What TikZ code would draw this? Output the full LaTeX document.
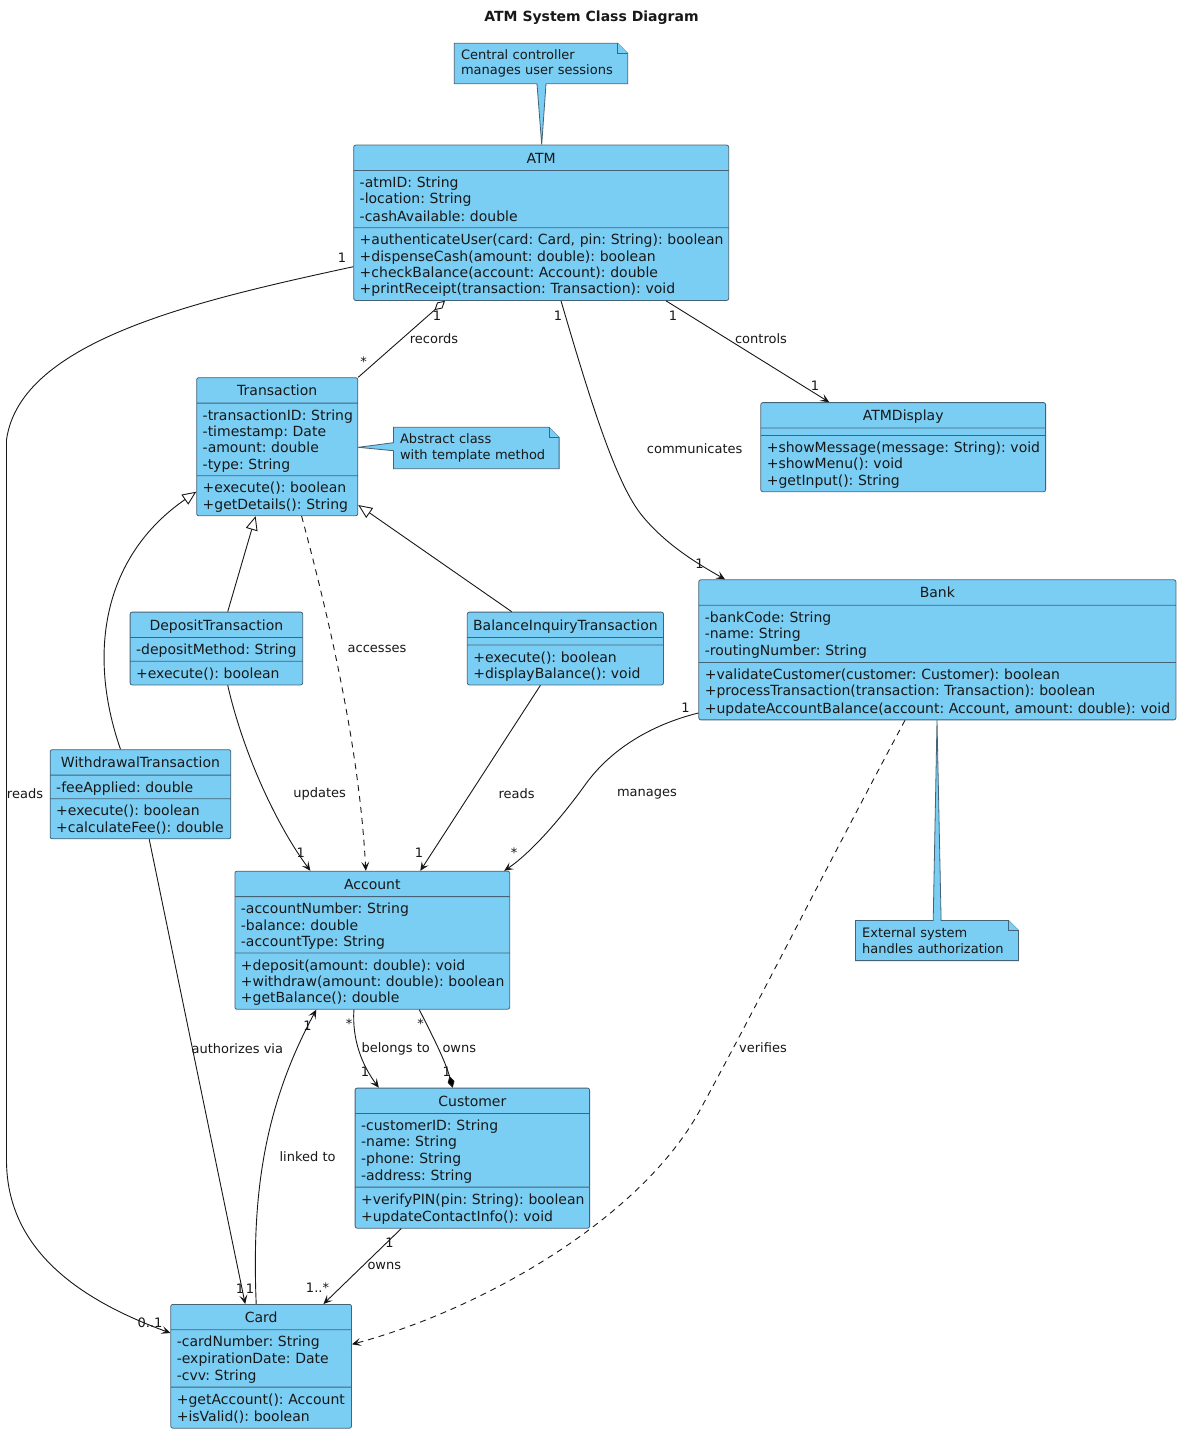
\documentclass[tikz,border=0pt]{standalone}
\usepackage{fontspec}
\setmainfont{DejaVu Sans}
\usetikzlibrary{shapes.multipart,arrows.meta}
\pgfdeclarelayer{background}
\pgfsetlayers{background,main}

\definecolor{umlfill}{RGB}{122,206,244}
\definecolor{umlline}{RGB}{70,98,118}
\definecolor{ink}{RGB}{24,24,24}

\newcommand{\classfont}{\fontsize{14}{16.3}\selectfont\frenchspacing}
\newcommand{\labelfont}{\fontsize{13}{15.7}\selectfont\frenchspacing}
\newcommand{\umlstrut}{\rule[-2.9pt]{0pt}{16.3pt}}
\newcommand{\hdstrut}{\rule[-3.6pt]{0pt}{18pt}}
\newcommand{\members}[1]{\rightskip=0pt plus 1fil minus 60pt\relax
  \hyphenpenalty=10000 \exhyphenpenalty=10000 \umlstrut#1\umlstrut\par}
\newcommand{\classname}[1]{\leftskip=0pt plus 1fil minus 30pt\relax
  \rightskip=0pt plus 1fil minus 30pt\relax\parfillskip=0pt\relax
  \hyphenpenalty=10000 \hdstrut#1\par}

\tikzset{
  umlclass/.style={rectangle split, rectangle split parts=3, draw=umlline,
    fill=umlfill, line width=0.8pt, rounded corners=2pt, inner xsep=6pt,
    inner ysep=3.3pt, font=\classfont, text=ink, align=left, anchor=north west},
  notebox/.style={anchor=north west, inner xsep=6.5pt, inner ysep=0pt,
    font=\labelfont, text=ink, align=left},
  notebody/.style={draw=umlline, fill=umlfill, line width=0.8pt},
  assoc/.style={draw=ink, line width=0.9pt},
  nav/.style={assoc, -{Stealth[length=9pt,width=8pt,inset=4pt]}},
  dep/.style={nav, dash pattern=on 6pt off 5pt},
  inherit/.style={assoc, -{Triangle[open,fill=white,length=14pt,width=12pt]}},
  aggr/.style={assoc, -{Diamond[open,fill=white,length=14pt,width=8pt]}},
  compo/.style={assoc, -{Diamond[length=12pt,width=7pt]}},
  lbl/.style={font=\labelfont, text=ink, inner sep=0pt},
}

\begin{document}
\begin{tikzpicture}[x=1pt,y=-1pt]
  \useasboundingbox (0,0) rectangle (1189,1442);
  \node[font=\bfseries\fontsize{14}{16}\selectfont, text=ink] (title) at (591.5,18) {ATM System Class Diagram};

  % Classes
  \node[umlclass, text width=363pt] (atm) at (353.3,144.7) {\classname{ATM}
    \nodepart{two}\members{-atmID: String\\-location: String\\-cashAvailable: double}
    \nodepart{three}\members{+authenticateUser(card: Card, pin: String): boolean\\+dispenseCash(amount: double): boolean\\+checkBalance(account: Account): double\\+printReceipt(transaction: Transaction): void}};
  \node[umlclass, text width=272.8pt] (display) at (760.4,402.2) {\classname{ATMDisplay}
    \nodepart{two}
    \nodepart{three}\members{+showMessage(message: String): void\\+showMenu(): void\\+getInput(): String}};
  \node[umlclass, text width=149.1pt] (trans) at (196.3,377.3) {\classname{Transaction}
    \nodepart{two}\members{-transactionID: String\\-timestamp: Date\\-amount: double\\-type: String}
    \nodepart{three}\members{+execute(): boolean\\+getDetails(): String}};
  \node[umlclass, text width=160.6pt] (deposit) at (129.7,611.7) {\classname{DepositTransaction}
    \nodepart{two}\members{-depositMethod: String}
    \nodepart{three}\members{+execute(): boolean}};
  \node[umlclass, text width=184.2pt] (balinq) at (466.9,611.7) {\classname{BalanceInquiryTransaction}
    \nodepart{two}
    \nodepart{three}\members{+execute(): boolean\\+displayBalance(): void}};
  \node[umlclass, text width=168.6pt] (withdraw) at (49.8,749.3) {\classname{WithdrawalTransaction}
    \nodepart{two}\members{-feeApplied: double}
    \nodepart{three}\members{+execute(): boolean\\+calculateFee(): double}};
  \node[umlclass, text width=465.1pt] (bank) at (698.4,579.4) {\classname{Bank}
    \nodepart{two}\members{-bankCode: String\\-name: String\\-routingNumber: String}
    \nodepart{three}\members{+validateCustomer(customer: Customer): boolean\\+processTransaction(transaction: Transaction): boolean\\+updateAccountBalance(account: Account, amount: double): void}};
  \node[umlclass, text width=262.8pt] (account) at (234.5,870.8) {\classname{Account}
    \nodepart{two}\members{-accountNumber: String\\-balance: double\\-accountType: String}
    \nodepart{three}\members{+deposit(amount: double): void\\+withdraw(amount: double): boolean\\+getBalance(): double}};
  \node[umlclass, text width=222.5pt] (customer) at (354.7,1087.7) {\classname{Customer}
    \nodepart{two}\members{-customerID: String\\-name: String\\-phone: String\\-address: String}
    \nodepart{three}\members{+verifyPIN(pin: String): boolean\\+updateContactInfo(): void}};
  \node[umlclass, text width=168.7pt] (card) at (170.4,1304) {\classname{Card}
    \nodepart{two}\members{-cardNumber: String\\-expirationDate: Date\\-cvv: String}
    \nodepart{three}\members{+getAccount(): Account\\+isValid(): boolean}};

  % Notes
  \node[notebox, text width=160pt, minimum height=40pt] (notectrl) at (454.3,43.3) {Central controller\\manages user sessions};
  \node[notebox, text width=152.3pt, minimum height=41pt] (noteabs) at (393.4,427.3) {Abstract class\\with template method};
  \node[notebox, text width=149.7pt, minimum height=39.8pt] (noteext) at (855.4,920.4) {External system\\handles authorization};
  \begin{pgfonlayer}{background}
    \fill[white] (0,0) rectangle (1189,1442);
    \draw[notebody] (notectrl.north west) -- ([xshift=-10pt]notectrl.north east) -- ([yshift=-10pt]notectrl.north east)
      -- (notectrl.south east) -- ([xshift=91.7pt]notectrl.south west) -- ([xshift=188.4pt]atm.north west)
      -- ([xshift=82.7pt]notectrl.south west) -- (notectrl.south west) -- cycle;
    \draw[notebody] ([xshift=-10pt]notectrl.north east) |- ([yshift=-10pt]notectrl.north east);
    \draw[notebody] (noteabs.north west) -- ([xshift=-10pt]noteabs.north east) -- ([yshift=-10pt]noteabs.north east)
      -- (noteabs.south east) -- (noteabs.south west) -- ([yshift=-23.4pt]noteabs.north west)
      -- ([yshift=-70pt]trans.north east) -- ([yshift=-15.4pt]noteabs.north west) -- cycle;
    \draw[notebody] ([xshift=-10pt]noteabs.north east) |- ([yshift=-10pt]noteabs.north east);
    \draw[notebody] (noteext.north west) -- ([xshift=77.8pt]noteext.north west) -- ([xshift=238.6pt]bank.south west)
      -- ([xshift=85.7pt]noteext.north west) -- ([xshift=-10pt]noteext.north east) -- ([yshift=-10pt]noteext.north east)
      -- (noteext.south east) -- (noteext.south west) -- cycle;
    \draw[notebody] ([xshift=-10pt]noteext.north east) |- ([yshift=-10pt]noteext.north east);
  \end{pgfonlayer}

  % Inheritance
  \draw[inherit] ([xshift=70.7pt]withdraw.north west) .. controls (86,650) and (105,555) .. ([yshift=-114.4pt]trans.north west);
  \draw[inherit] ([xshift=98pt]deposit.north west) -- ([xshift=59.3pt]trans.south west);
  \draw[inherit] ([xshift=44.8pt]balinq.north west) -- ([yshift=-127.7pt]trans.north east);

  % Associations
  \draw[aggr] (trans.north east) -- ([xshift=91.7pt]atm.south west);
  \draw[nav] ([yshift=-122pt]atm.north west) .. controls (200,300) and (20,340) .. (6.5,440)
    -- (6.5,1160) .. controls (6.5,1250) and (80,1300) .. ([yshift=-29pt]card.north west);
  \draw[nav] ([xshift=207.7pt]atm.south west) .. controls (590,400) and (615,480) .. (640,513)
    .. controls (665,545) and (700,565) .. ([xshift=26.7pt]bank.north west);
  \draw[nav] ([xshift=312.7pt]atm.south west) -- ([xshift=68.8pt]display.north west);
  \draw[nav] ([xshift=98pt]deposit.south west) .. controls (245,760) and (280,830) .. ([xshift=75.9pt]account.north west);
  \draw[nav] ([xshift=73.5pt]balinq.south west) -- ([xshift=185.8pt]account.north west);
  \draw[nav] ([yshift=-133.6pt]bank.north west) .. controls (650,725) and (610,750) .. (585,785)
    .. controls (567,810) and (535,850) .. ([xshift=269.7pt]account.north west);
  \draw[nav] ([xshift=119.4pt]account.south west) .. controls (352,1040) and (362,1065) .. ([xshift=24.1pt]customer.north west);
  \draw[compo] ([xshift=184.8pt]account.south west) .. controls (432,1035) and (445,1060) .. ([xshift=98pt]customer.north west);
  \draw[nav] ([xshift=85.8pt]card.north west) .. controls (252,1200) and (262,1110) .. ([xshift=81.8pt]account.south west);
  \draw[nav] ([xshift=99.4pt]withdraw.south west) -- ([xshift=74.8pt]card.north west);
  \draw[nav] ([xshift=46.6pt]customer.south west) -- ([xshift=153pt]card.north west);

  % Dependencies
  \draw[dep] ([xshift=105.3pt]trans.south west) .. controls (335,640) and (360,760) .. ([xshift=131.3pt]account.north west);
  \draw[dep] ([xshift=206.6pt]bank.south west) .. controls (830,860) and (760,1000) .. (700,1110)
    .. controls (640,1220) and (480,1310) .. ([yshift=-40.3pt]card.north east);

  % Labels and multiplicities
  \node[lbl] (mAtmRecords) at (437,316) {1};
  \node[lbl] (mTransRecords) at (363.6,362) {*};
  \node[lbl] (lRecords) at (434,339) {records};
  \node[lbl] (mAtmReads) at (342,258) {1};
  \node[lbl] (lReadsCard) at (25,794) {reads};
  \node[lbl] (mCardReads) at (150,1323) {0..1};
  \node[lbl] (mAtmComm) at (558,316) {1};
  \node[lbl] (lComm) at (694.7,449) {communicates};
  \node[lbl] (mBankComm) at (699.5,564) {1};
  \node[lbl] (mAtmCtrl) at (673,316) {1};
  \node[lbl] (lCtrl) at (761,339) {controls};
  \node[lbl] (mDispCtrl) at (815,386) {1};
  \node[lbl] (lAccesses) at (377,649) {accesses};
  \node[lbl] (lUpdates) at (319.6,794) {updates};
  \node[lbl] (mAccUpd) at (300.8,853) {1};
  \node[lbl] (lReadsAcc) at (516.6,794) {reads};
  \node[lbl] (mAccReads) at (419,853) {1};
  \node[lbl] (lManages) at (647,794.5) {manages};
  \node[lbl] (mBankMan) at (685.6,708) {1};
  \node[lbl] (mAccMan) at (514,852.7) {*};
  \node[lbl] (lVerifies) at (763,1048) {verifies};
  \node[lbl] (lBelongs) at (395.7,1049) {belongs to};
  \node[lbl] (mAccBel) at (349,1024) {*};
  \node[lbl] (mCustBel) at (365,1071.7) {1};
  \node[lbl] (lOwnsAcc) at (459.3,1049) {owns};
  \node[lbl] (mAccOwn) at (420.7,1024) {*};
  \node[lbl] (mCustOwn) at (446.7,1071.7) {1};
  \node[lbl] (lLinked) at (307.6,1157) {linked to};
  \node[lbl] (mAccLink) at (307.6,1025.5) {1};
  \node[lbl] (mCardLink) at (250,1289) {1};
  \node[lbl] (lAuth) at (237.3,1048.5) {authorizes via};
  \node[lbl] (mCardAuth) at (240,1289) {1};
  \node[lbl] (lOwnsCard) at (384.3,1266.2) {owns};
  \node[lbl] (mCustOwnCard) at (389.5,1242.5) {1};
  \node[lbl] (mCardOwn) at (317.5,1287.7) {1..*};
\end{tikzpicture}
\end{document}
